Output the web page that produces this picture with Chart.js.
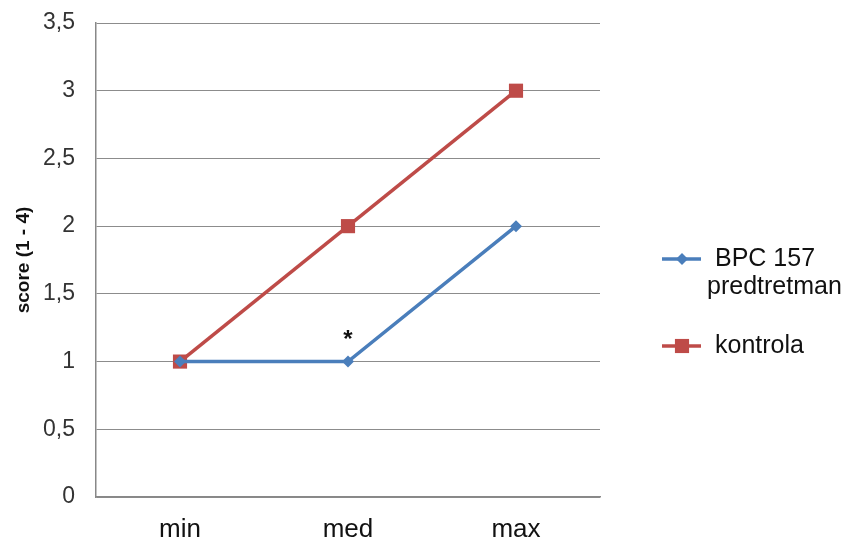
<!DOCTYPE html>
<html>
<head>
<meta charset="utf-8">
<script src="https://cdn.jsdelivr.net/npm/chart.js@4/dist/chart.umd.min.js"></script>
<style>
  html, body { margin: 0; padding: 0; background: #fff; }
  #wrap { width: 855px; height: 540px; position: relative; }
</style>
</head>
<body>
<div id="wrap"><canvas id="graphique"></canvas></div>
<script>
var categories = ['min', 'med', 'max'];
var bpcValues = [1, 1, 2];
var kontrolaValues = [1, 2, 3];
var seriesLabels = [['BPC 157', 'predtretman'], ['kontrola']];
var yTitle = 'score (1 - 4)';
// asterisk above the BPC 157 point at 'med'
var starIndex = 1;

var blue = '#4a7ebb';
var red = '#be4b48';
var police = '"Liberation Sans", Arial, sans-serif';

var legendeDroite = {
    id: 'legendeDroite',
    afterDraw: function (chart) {
        var ctx = chart.ctx;
        var items = [
            { color: blue, style: 'rectRot', r: 6, text: seriesLabels[0], y: 259 },
            { color: red, style: 'rect', r: 10, text: seriesLabels[1], y: 346 }
        ];
        ctx.save();
        items.forEach(function (it) {
            ctx.strokeStyle = it.color;
            ctx.lineWidth = 3.5;
            ctx.beginPath();
            ctx.moveTo(662, it.y);
            ctx.lineTo(701, it.y);
            ctx.stroke();
            ctx.fillStyle = it.color;
            Chart.helpers.drawPoint(ctx, { pointStyle: it.style, radius: it.r, borderWidth: 0 }, 682, it.y);
            ctx.fillStyle = '#111';
            ctx.font = '25px ' + police;
            ctx.textBaseline = 'middle';
            ctx.textAlign = 'left';
            ctx.fillText(it.text[0], 715, it.y);
            if (it.text[1]) {
                ctx.fillText(it.text[1], 707, it.y + 28);
            }
        });
        // asterisk
        var meta = chart.getDatasetMeta(0);
        var pt = meta.data[starIndex];
        ctx.font = 'bold 24px ' + police;
        ctx.textAlign = 'center';
        ctx.fillText('*', pt.x, pt.y - 21);
        ctx.restore();
    }
};

var ctx1 = document.getElementById('graphique').getContext('2d');
var graphique = new Chart(ctx1, {
    type: 'line',
    data: {
        labels: categories,
        datasets: [{
            label: 'BPC 157 predtretman',
            data: bpcValues,
            borderColor: blue,
            backgroundColor: blue,
            borderWidth: 3.5,
            pointStyle: 'rectRot',
            pointRadius: 6,
            pointBorderWidth: 0,
            tension: 0
        }, {
            label: 'kontrola',
            data: kontrolaValues,
            borderColor: red,
            backgroundColor: red,
            borderWidth: 3.5,
            pointStyle: 'rect',
            pointRadius: 10,
            pointBorderWidth: 0,
            tension: 0
        }]
    },
    options: {
        responsive: true,
        maintainAspectRatio: false,
        animation: false,
        layout: { padding: { top: 23, right: 255, left: 8, bottom: 0 } },
        plugins: {
            legend: { display: false },
            tooltip: { enabled: false }
        },
        scales: {
            x: {
                offset: true,
                grid: { display: false, drawTicks: false },
                border: { color: '#888', width: 1.5 },
                ticks: {
                    color: '#111',
                    padding: 17,
                    font: { family: police, size: 26 }
                },
                afterFit: function (scale) { scale.height = 43; }
            },
            y: {
                min: 0,
                max: 3.5,
                ticks: {
                    stepSize: 0.5,
                    color: '#333',
                    padding: 21,
                    font: { family: police, size: 23 },
                    callback: function (v) { return String(v).replace('.', ','); }
                },
                grid: { color: '#8c8c8c', lineWidth: 1, drawTicks: false },
                border: { color: '#888', width: 1.5 },
                title: {
                    display: true,
                    text: yTitle,
                    color: '#111',
                    font: { family: police, size: 19, weight: 'bold' }
                },
                afterFit: function (scale) {
                    scale.width = 88;
                    scale.paddingTop = 0;
                    scale.paddingBottom = 0;
                }
            }
        }
    },
    plugins: [legendeDroite]
});
</script>
</body>
</html>
